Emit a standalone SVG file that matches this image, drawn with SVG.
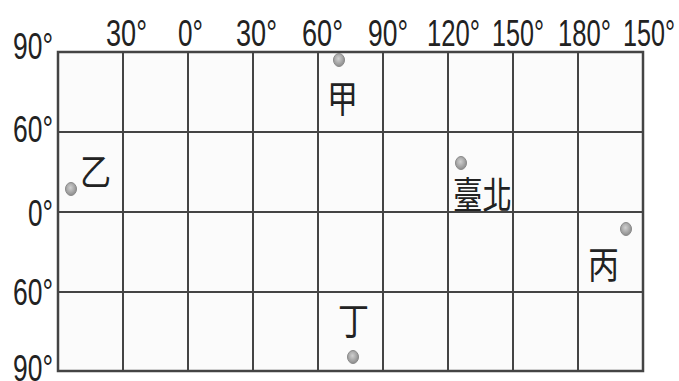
<svg xmlns="http://www.w3.org/2000/svg" width="679" height="381" viewBox="0 0 679 381">
<style>
.deg{font-family:"Liberation Sans",Arial,sans-serif;font-size:36px;fill:#222}
.cjk{font-family:"Noto Sans CJK TC","Noto Sans CJK SC",sans-serif;font-size:37px;fill:#222}
.grid line{stroke:#444;stroke-width:2}
.dot{fill:url(#dg);stroke:#8a8a8a;stroke-width:1}
</style>
<defs>
<radialGradient id="dg" cx="0.45" cy="0.4" r="0.6">
<stop offset="0" stop-color="#d0d0d0"/>
<stop offset="1" stop-color="#8c8c8c"/>
</radialGradient>
</defs>
<rect width="679" height="381" fill="#ffffff"/>
<g id="grid" class="grid">
<rect x="58" y="52" width="585" height="319" fill="#fbfbfb" stroke="#444" stroke-width="2.5"/>
<line x1="123" y1="52" x2="123" y2="371"/>
<line x1="188" y1="52" x2="188" y2="371"/>
<line x1="253" y1="52" x2="253" y2="371"/>
<line x1="318" y1="52" x2="318" y2="371"/>
<line x1="383" y1="52" x2="383" y2="371"/>
<line x1="448" y1="52" x2="448" y2="371"/>
<line x1="513" y1="52" x2="513" y2="371"/>
<line x1="578" y1="52" x2="578" y2="371"/>
<line x1="58" y1="132" x2="643" y2="132"/>
<line x1="58" y1="212" x2="643" y2="212"/>
<line x1="58" y1="292" x2="643" y2="292"/>
</g>
<g id="lon-labels" class="deg">
<text x="106" y="46" textLength="41" lengthAdjust="spacingAndGlyphs">30°</text>
<text x="178" y="46" textLength="25" lengthAdjust="spacingAndGlyphs">0°</text>
<text x="236" y="46" textLength="41" lengthAdjust="spacingAndGlyphs">30°</text>
<text x="302" y="46" textLength="41" lengthAdjust="spacingAndGlyphs">60°</text>
<text x="368" y="46" textLength="40" lengthAdjust="spacingAndGlyphs">90°</text>
<text x="427" y="46" textLength="53" lengthAdjust="spacingAndGlyphs">120°</text>
<text x="492" y="46" textLength="52" lengthAdjust="spacingAndGlyphs">150°</text>
<text x="558" y="46" textLength="53" lengthAdjust="spacingAndGlyphs">180°</text>
<text x="623" y="46" textLength="52" lengthAdjust="spacingAndGlyphs">150°</text>
</g>
<g id="lat-labels" class="deg">
<text x="13" y="59" textLength="40" lengthAdjust="spacingAndGlyphs">90°</text>
<text x="13" y="142" textLength="40" lengthAdjust="spacingAndGlyphs">60°</text>
<text x="28" y="226" textLength="25" lengthAdjust="spacingAndGlyphs">0°</text>
<text x="13" y="305" textLength="40" lengthAdjust="spacingAndGlyphs">60°</text>
<text x="13" y="381" textLength="40" lengthAdjust="spacingAndGlyphs">90°</text>
</g>
<g id="jia">
<ellipse class="dot" cx="339" cy="60" rx="5.5" ry="6.5"/>
<text class="cjk" x="327" y="113" textLength="31" lengthAdjust="spacingAndGlyphs">甲</text>
</g>
<g id="yi">
<ellipse class="dot" cx="71" cy="189" rx="5.5" ry="6.5"/>
<text class="cjk" x="80" y="186" textLength="31" lengthAdjust="spacingAndGlyphs">乙</text>
</g>
<g id="taipei">
<ellipse class="dot" cx="461" cy="163" rx="5.5" ry="6.5"/>
<text class="cjk" x="453" y="209" textLength="59" lengthAdjust="spacingAndGlyphs">臺北</text>
</g>
<g id="bing">
<ellipse class="dot" cx="626" cy="229" rx="5.5" ry="6.5"/>
<text class="cjk" x="588" y="279" textLength="31" lengthAdjust="spacingAndGlyphs">丙</text>
</g>
<g id="ding">
<ellipse class="dot" cx="353" cy="357" rx="5.5" ry="6.5"/>
<text class="cjk" x="338" y="335" textLength="31" lengthAdjust="spacingAndGlyphs">丁</text>
</g>
</svg>
